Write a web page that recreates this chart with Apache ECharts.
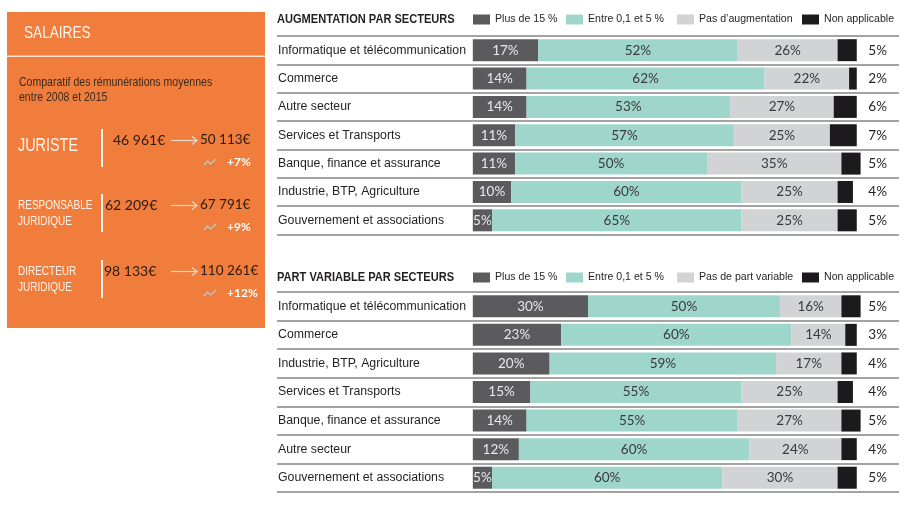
<!DOCTYPE html>
<html>
<head>
<meta charset="utf-8">
<script src="https://cdn.jsdelivr.net/npm/echarts@6/dist/echarts.min.js"></script>
<style>
  html, body { margin: 0; padding: 0; background: #fff; }
  #main { width: 909px; height: 505px; }
</style>
</head>
<body>
<div id="main"></div>
<script>
// ---- données : augmentation par secteurs ----
const NOMS_AUGM = ["Plus de 15 %", "Entre 0,1 et 5 %", "Pas d’augmentation", "Non applicable"];
const SECTEURS_AUGM = [
  "Informatique et télécommunication",
  "Commerce",
  "Autre secteur",
  "Services et Transports",
  "Banque, finance et assurance",
  "Industrie, BTP, Agriculture",
  "Gouvernement et associations",
];
const AUGM_PLUS15 = [17, 14, 14, 11, 11, 10, 5];
const AUGM_ENTRE = [52, 62, 53, 57, 50, 60, 65];
const AUGM_PAS = [26, 22, 27, 25, 35, 25, 25];
const AUGM_NA = [5, 2, 6, 7, 5, 4, 5];

// ---- données : part variable par secteurs ----
const NOMS_VAR = ["Plus de 15 %", "Entre 0,1 et 5 %", "Pas de part variable", "Non applicable"];
const SECTEURS_VAR = [
  "Informatique et télécommunication",
  "Commerce",
  "Industrie, BTP, Agriculture",
  "Services et Transports",
  "Banque, finance et assurance",
  "Autre secteur",
  "Gouvernement et associations",
];
const VAR_PLUS15 = [30, 23, 20, 15, 14, 12, 5];
const VAR_ENTRE = [50, 60, 59, 55, 55, 60, 60];
const VAR_PAS = [16, 14, 17, 25, 27, 24, 30];
const VAR_NA = [5, 3, 4, 4, 5, 4, 5];

// ---- données : salaires ----
const POSTES = ["JURISTE", "RESPONSABLE\nJURIDIQUE", "DIRECTEUR\nJURIDIQUE"];
const SALAIRE_2008 = [46961, 62209, 98133];
const SALAIRE_2015 = [50113, 67791, 110261];
const HAUSSE = [7, 9, 12];

// couleurs
const COULEURS = ["#5b5b5d", "#9fd6cc", "#d2d3d5", "#1d1a1e"];
const ORANGE = "#f07d3b";
const TEXTE = "#231f20";
const BLANC = "#fff4ec";

// pas de police étroite installée : Liberation Sans, compressée en largeur (scaleX) pour les graphics
const SANS = "'Liberation Sans', Arimo, Arial, sans-serif";
const NUM = "Lato, 'Noto Sans', sans-serif";

function euros(n) {
  return String(n).replace(/\B(?=(\d{3})+(?!\d))/g, " ") + "€";
}

function txt(text, x, y, size, color, family, weight, sx) {
  return {
    type: "text", x: x, y: y, scaleX: sx || 1,
    style: {
      text: text, fill: color, fontSize: size, fontFamily: family,
      fontWeight: weight || "normal", align: "left", verticalAlign: "middle",
    },
  };
}

// panneau orange à gauche
const graphics = [
  { type: "rect", shape: { x: 7, y: 12, width: 258, height: 316 }, style: { fill: ORANGE } },
  txt("SALAIRES", 24, 33, 17, BLANC, SANS, "normal", 0.8),
  { type: "rect", shape: { x: 7, y: 55.5, width: 258, height: 1.6 }, style: { fill: "#fbe3d3" } },
  txt("Comparatif des rémunérations moyennes", 19, 82, 13, "#3d2a1d", SANS, "normal", 0.81),
  txt("entre 2008 et 2015", 19, 97.5, 13, "#3d2a1d", SANS, "normal", 0.81),
  // titres des deux graphiques
  txt("AUGMENTATION PAR SECTEURS", 277, 19.5, 13.5, TEXTE, SANS, "bold", 0.82),
  txt("PART VARIABLE PAR SECTEURS", 277, 277.5, 13.5, TEXTE, SANS, "bold", 0.82),
];
const LIGNE_Y = [140, 205, 271];
const GAUCHE_X = [113, 105, 104];
POSTES.forEach(function (p, i) {
  const y = LIGNE_Y[i];
  const lignes = p.split("\n");
  if (lignes.length === 1) {
    graphics.push(txt(lignes[0], 18, y + 6.5, 18, BLANC, SANS, "normal", 0.8));
  } else {
    graphics.push(txt(lignes[0], 18, y + 0.5, 13.5, BLANC, SANS, "normal", 0.74));
    graphics.push(txt(lignes[1], 18, y + 16, 13.5, BLANC, SANS, "normal", 0.74));
  }
  graphics.push({ type: "line", shape: { x1: 102, y1: y - 11, x2: 102, y2: y + 27 },
    style: { stroke: BLANC, lineWidth: 2 } });
  graphics.push(txt(euros(SALAIRE_2008[i]), GAUCHE_X[i], y, 14, "#2b1a12", NUM));
  graphics.push({ type: "line", shape: { x1: 171, y1: y + 0.5, x2: 197, y2: y + 0.5 },
    style: { stroke: "#ecd9cb", lineWidth: 1.2 } });
  graphics.push({ type: "polyline", shape: { points: [[192, y - 3.5], [197, y + 0.5], [192, y + 4.5]] },
    style: { stroke: "#ecd9cb", lineWidth: 1.2, fill: null } });
  graphics.push(txt(euros(SALAIRE_2015[i]), 200, y, 13.5, "#2b1a12", NUM));
  graphics.push({ type: "polyline",
    shape: { points: [[204, y + 25], [207.5, y + 21], [210.5, y + 24], [216, y + 19]] },
    style: { stroke: "#b9c6bd", lineWidth: 1.5, fill: null } });
  graphics.push(txt("+" + HAUSSE[i] + "%", 227, y + 22, 12, "#ffffff", NUM, "bold"));
});

function barres(noms, valeurs, stack, idx) {
  return noms.map(function (nom, k) {
    return {
      type: "bar", name: nom, stack: stack, xAxisIndex: idx, yAxisIndex: idx * 2,
      barWidth: 22, data: valeurs[k], itemStyle: { color: COULEURS[k] },
      label: {
        show: k < 3, position: "inside", formatter: "{c}%",
        color: k === 0 ? "#e8e8e8" : "#3a3a3a", fontFamily: NUM, fontSize: 13.5,
      },
    };
  });
}

function axeGauche(grid, cats) {
  return {
    type: "category", gridIndex: grid, inverse: true, data: cats,
    axisLine: { show: false }, axisTick: { show: false },
    splitLine: { show: true, interval: 0, lineStyle: { color: "#858585", width: 1.6 } },
    axisLabel: { align: "left", margin: -1, color: TEXTE, fontSize: 12.3, fontFamily: SANS, interval: 0 },
  };
}

function axeDroite(grid, cats, na) {
  return {
    type: "category", gridIndex: grid, inverse: true, position: "right", data: cats,
    axisLine: { show: false }, axisTick: { show: false }, splitLine: { show: false },
    axisLabel: {
      align: "right", margin: -12, color: TEXTE, fontSize: 13.5, fontFamily: NUM, interval: 0,
      formatter: function (v, i) { return na[i] + "%"; },
    },
  };
}

// une légende par élément, pour caler chaque carré à sa place
const LEGENDE_X = [473, 566, 677, 802];
function legendes(noms, top) {
  return noms.map(function (nom, k) {
    return {
      left: LEGENDE_X[k], top: top, padding: 0, itemWidth: 17, itemHeight: 10, itemGap: 0,
      icon: "rect", selectedMode: false, data: [nom],
      textStyle: { color: TEXTE, fontSize: 10.6, fontFamily: SANS },
    };
  });
}

const chart = echarts.init(document.getElementById("main"));
chart.setOption({
  animation: false,
  legend: legendes(NOMS_AUGM, 14).concat(legendes(NOMS_VAR, 272)),
  grid: [
    { left: 277, right: 10, top: 36, height: 198.5 },
    { left: 277, right: 10, top: 292, height: 200 },
  ],
  xAxis: [
    { type: "value", gridIndex: 0, min: -51, max: 111, show: false },
    { type: "value", gridIndex: 1, min: -51, max: 111, show: false },
  ],
  yAxis: [
    axeGauche(0, SECTEURS_AUGM), axeDroite(0, SECTEURS_AUGM, AUGM_NA),
    axeGauche(1, SECTEURS_VAR), axeDroite(1, SECTEURS_VAR, VAR_NA),
  ],
  series: barres(NOMS_AUGM, [AUGM_PLUS15, AUGM_ENTRE, AUGM_PAS, AUGM_NA], "augm", 0)
    .concat(barres(NOMS_VAR, [VAR_PLUS15, VAR_ENTRE, VAR_PAS, VAR_NA], "var", 1)),
  graphic: { elements: graphics },
});
</script>
</body>
</html>
